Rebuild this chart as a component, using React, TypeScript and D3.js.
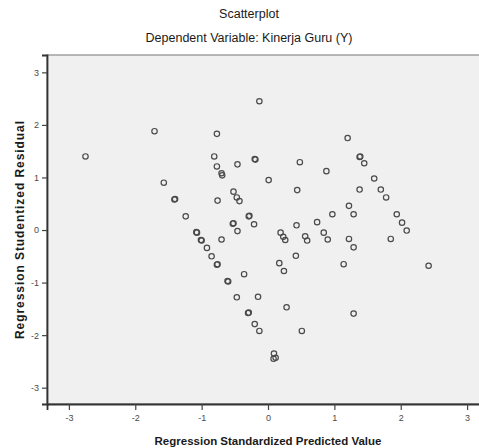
import * as d3 from "d3";
import React, { useEffect, useRef } from "react";

// standardized predicted value (x) and studentized residual (y)
const predicted = [
  -2.75, -1.71, -1.57, -1.41, -1.4, -1.24, -1.07, -1.08, -1.01, -1.0, -0.92, -0.85,
  -0.77, -0.76, -0.61, -0.6, -0.47, -0.77, -0.81, -0.77, -0.7, -0.69, -0.46, -0.52,
  -0.47, -0.43, -0.76, -0.53, -0.52, -0.46, -0.7, -0.36, -0.2, -0.19, -0.13, 0.01,
  -0.29, -0.28, -0.21, -0.15, -0.3, -0.29, -0.2, -0.13, 0.09, 0.115, 0.084, 0.19,
  0.23, 0.26, 0.43, 0.17, 0.24, 0.42, 0.28, 0.51, 0.48, 0.44, 0.56, 0.59, 0.74,
  0.97, 0.84, 0.9, 0.88, 1.2, 1.38, 1.39, 1.45, 1.6, 1.7, 1.78, 1.38, 1.22, 1.29,
  1.94, 2.02, 2.09, 1.85, 1.22, 1.29, 1.14, 2.42, 1.29,
];
const residual = [
  1.4, 1.88, 0.9, 0.58, 0.59, 0.26, -0.05, -0.04, -0.19, -0.2, -0.34, -0.5,
  -0.66, -0.65, -0.97, -0.98, -1.28, 1.83, 1.4, 1.21, 1.08, 1.04, 1.25, 0.73,
  0.62, 0.55, 0.56, 0.12, 0.13, -0.02, -0.18, -0.84, 1.35, 1.34, 2.45, 0.95,
  0.26, 0.27, 0.11, -1.27, -1.58, -1.57, -1.79, -1.92, -2.35, -2.43, -2.45, -0.05,
  -0.13, -0.19, 0.09, -0.63, -0.78, -0.49, -1.47, -1.92, 1.29, 0.76, -0.12, -0.2,
  0.15, 0.3, -0.05, -0.18, 1.12, 1.75, 1.39, 1.4, 1.27, 0.98, 0.77, 0.62, 0.77,
  0.46, 0.3, 0.3, 0.14, -0.01, -0.17, -0.17, -0.33, -0.65, -0.68, -1.59,
];

const xTicks = [-3, -2, -1, 0, 1, 2, 3];
const yTicks = [-3, -2, -1, 0, 1, 2, 3];

const title = "Scatterplot";
const subtitle = "Dependent Variable: Kinerja Guru (Y)";
const xLabel = "Regression Standardized Predicted Value";
const yLabel = "Regression Studentized Residual";

const W = 479;
const H = 448;
const FONT = "'Liberation Sans', Arial, sans-serif";

export default function App() {
  const svgRef = useRef<SVGSVGElement | null>(null);

  useEffect(() => {
    if (!svgRef.current) return;
    const svg = d3.select(svgRef.current);
    svg.selectAll("*").remove();

    const left = 47;
    const right = 489; // frame runs past the cropped edge
    const top = 55;
    const bottom = 404;

    const x = d3.scaleLinear().domain([-3.33, 3.33]).range([left, right]);
    const y = d3.scaleLinear().domain([-3.31, 3.33]).range([bottom, top]);

    svg
      .append("text")
      .attr("x", 249)
      .attr("y", 18)
      .attr("text-anchor", "middle")
      .style("font-family", FONT)
      .style("font-size", "12.5px")
      .style("fill", "#1a1a1a")
      .text(title);

    svg
      .append("text")
      .attr("x", 249)
      .attr("y", 42)
      .attr("text-anchor", "middle")
      .style("font-family", FONT)
      .style("font-size", "12.5px")
      .style("fill", "#1a1a1a")
      .text(subtitle);

    // plot frame
    svg
      .append("rect")
      .attr("x", left)
      .attr("y", top)
      .attr("width", right - left)
      .attr("height", bottom - top)
      .attr("fill", "#f0f0f0")
      .attr("stroke", "#8a8a8a")
      .attr("stroke-width", 1.2);

    const fmt = (d: d3.NumberValue) => String(d);

    const gx = svg
      .append("g")
      .attr("transform", `translate(0,${bottom})`)
      .call(
        d3.axisBottom(x).tickValues(xTicks).tickFormat(fmt).tickSizeOuter(0).tickSize(6).tickPadding(5)
      );
    gx.select(".domain").attr("stroke", "#333").attr("stroke-width", 1.8);
    gx.selectAll(".tick line").attr("stroke", "#444").attr("stroke-width", 1.2);
    gx.selectAll(".tick text")
      .style("font-family", FONT)
      .style("font-size", "9px")
      .style("fill", "#4a4a4a");

    const gy = svg
      .append("g")
      .attr("transform", `translate(${left},0)`)
      .call(
        d3.axisLeft(y).tickValues(yTicks).tickFormat(fmt).tickSizeOuter(0).tickSize(5).tickPadding(3)
      );
    gy.select(".domain").attr("stroke", "#333").attr("stroke-width", 1.8);
    gy.selectAll(".tick line").attr("stroke", "#444").attr("stroke-width", 1.2);
    gy.selectAll(".tick text")
      .style("font-family", FONT)
      .style("font-size", "9px")
      .style("fill", "#4a4a4a");

    const points = predicted.map((p, i) => ({ p, r: residual[i] }));
    svg
      .append("g")
      .selectAll("circle")
      .data(points)
      .enter()
      .append("circle")
      .attr("cx", (d) => x(d.p))
      .attr("cy", (d) => y(d.r))
      .attr("r", 2.7)
      .attr("fill", "none")
      .attr("stroke", "#4a4a4a")
      .attr("stroke-width", 1.2);

    svg
      .append("text")
      .attr("x", 268)
      .attr("y", 445)
      .attr("text-anchor", "middle")
      .style("font-family", FONT)
      .style("font-size", "11.5px")
      .style("font-weight", "bold")
      .style("fill", "#1a1a1a")
      .text(xLabel);

    svg
      .append("text")
      .attr("transform", `translate(24,230) rotate(-90)`)
      .attr("text-anchor", "middle")
      .attr("textLength", 218)
      .attr("lengthAdjust", "spacing")
      .style("font-family", FONT)
      .style("font-size", "12px")
      .style("font-weight", "bold")
      .style("fill", "#1a1a1a")
      .text(yLabel);
  }, []);

  return (
    <div style={{ position: "absolute", left: 0, top: 0, width: W, height: H, background: "#fff" }}>
      <svg ref={svgRef} width={W} height={H} style={{ display: "block", overflow: "hidden" }} />
    </div>
  );
}
